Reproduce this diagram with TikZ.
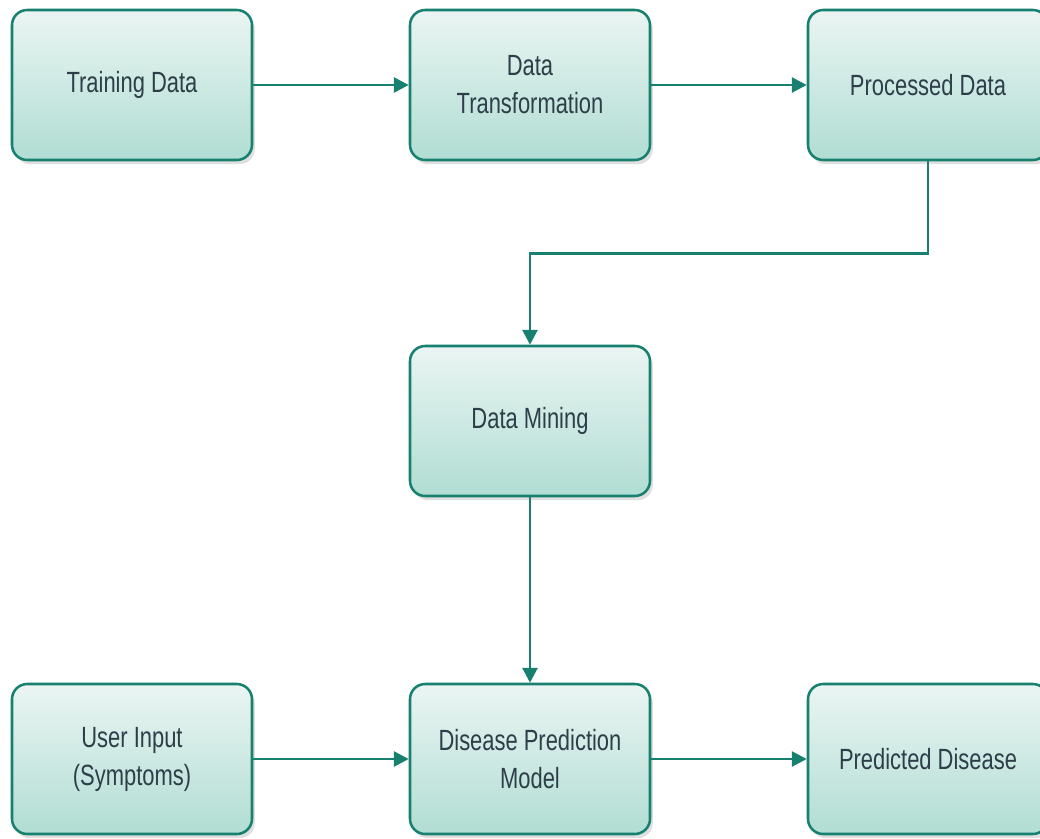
\documentclass[tikz,border=0pt]{standalone}
\usepackage{fontspec}
\setmainfont{Liberation Sans}[FakeStretch=0.75]
\usetikzlibrary{positioning,arrows.meta,shadows}

\definecolor{boxtop}{HTML}{EBF5F3}
\definecolor{boxbot}{HTML}{B0DDD3}
\definecolor{edge}{HTML}{17806F}
\definecolor{txt}{HTML}{2D3E48}

\tikzset{
  box/.style={draw=edge, line width=1.8pt, rounded corners=0.38cm,
    top color=boxtop, bottom color=boxbot,
    drop shadow={opacity=0.25, shadow xshift=2pt, shadow yshift=-3pt},
    minimum width=6cm, minimum height=3.75cm, align=center,
    text=txt, font=\fontsize{20.8}{27}\selectfont},
  link/.style={->, draw=edge, line width=2pt,
    >={Triangle[length=0.37cm, width=0.37cm]}}
}

\begin{document}
\begin{tikzpicture}
    \useasboundingbox (0, 0) rectangle (26, -20.95);

    % top row
    \node[box] at (3.3, -2.125) (training) {Training Data};
    \node[box] at (13.25, -2.125) (transform) {Data\\Transformation};
    \node[box] at (23.2, -2.125) (processed) {Processed Data};

    % middle
    \node[box] at (13.25, -10.525) (mining) {Data Mining};

    % bottom row
    \node[box] at (3.3, -18.975) (user) {User Input\\(Symptoms)};
    \node[box] at (13.25, -18.975) (model) {Disease Prediction\\Model};
    \node[box] at (23.2, -18.975) (predicted) {Predicted Disease};

    % Draw lines
    \draw[link] (training) -- (transform);
    \draw[link] (transform) -- (processed);
    \draw[link] (processed.south) -- ++(0, -2.3) -| (mining.north);
    \draw[link] (mining) -- (model);
    \draw[link] (user) -- (model);
    \draw[link] (model) -- (predicted);
\end{tikzpicture}
\end{document}
